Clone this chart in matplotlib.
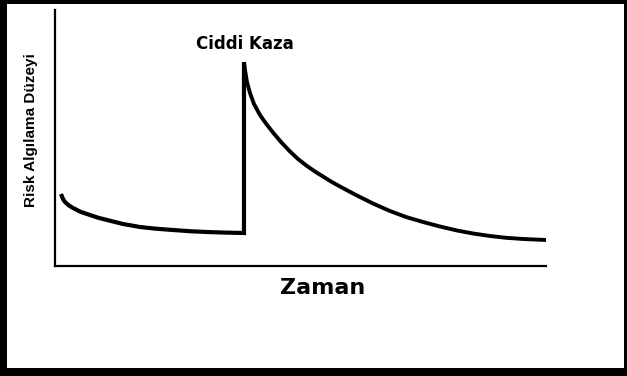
import matplotlib
matplotlib.use("Agg")
import matplotlib.pyplot as plt
from matplotlib.patches import Rectangle

# values (time 0..100, risk level 0..100)
zaman_once = [1.22, 1.63, 2.04, 2.85, 3.67, 5.30, 7.13, 8.76, 10.59, 13.85,
              17.31, 20.57, 24.03, 27.49, 30.96, 34.62, 38.49]
risk_once = [28.13, 26.17, 25.0, 23.63, 22.66, 21.09, 19.92, 18.87, 17.97, 16.41,
             15.23, 14.57, 14.06, 13.59, 13.28, 13.05, 12.89]

kaza_zamani = 38.49
kaza_riski = 79.69

zaman_sonra = [38.49, 38.70, 39.10, 39.71, 40.53, 41.75, 42.97, 44.40, 46.03,
               47.86, 49.49, 51.32, 52.95, 54.58, 56.21, 58.04, 61.30, 64.77,
               68.23, 71.49, 74.95, 78.41, 81.87, 85.13, 88.59, 91.85, 95.32, 100.0]
risk_sonra = [79.69, 76.56, 71.88, 67.58, 63.28, 58.98, 55.66, 52.15, 48.44,
              44.73, 41.80, 39.06, 36.91, 34.96, 33.01, 31.05, 27.73, 24.41,
              21.48, 19.14, 17.19, 15.43, 13.87, 12.70, 11.72, 11.02, 10.55, 10.16]

kaza_etiketi = "Ciddi Kaza"
x_etiketi = "Zaman"
y_etiketi = "Risk Algılama Düzeyi"

fig = plt.figure(figsize=(6.27, 3.76), dpi=100)
ax = fig.add_axes([55 / 627, 110 / 376, 491 / 627, 256 / 376])

# before the accident, then the jump up
ax.plot(zaman_once + [kaza_zamani], risk_once + [kaza_riski], color="black",
        lw=3.0, solid_joinstyle="miter", solid_capstyle="butt")
# after the accident
ax.plot(zaman_sonra, risk_sonra, color="black", lw=2.8,
        solid_joinstyle="round", solid_capstyle="butt")

ax.annotate(kaza_etiketi, xy=(kaza_zamani, kaza_riski), xytext=(0.5, 13),
            textcoords="offset points", ha="center", va="center",
            fontsize=12, fontweight="bold", family=["DejaVu Sans"])

ax.set_xlim(0, 100)
ax.set_ylim(0, 100)
ax.set_xticks([])
ax.set_yticks([])
for s in ["top", "right"]:
    ax.spines[s].set_visible(False)
for s in ["left", "bottom"]:
    ax.spines[s].set_linewidth(1.6)

ax.set_xlabel(x_etiketi, fontsize=16, fontweight="bold", family=["DejaVu Sans"])
ax.xaxis.set_label_coords(0.546, -0.086)
ax.xaxis.label.set_va("center")
ax.set_ylabel(y_etiketi, fontsize=11, fontweight="bold",
              family=["Liberation Sans", "DejaVu Sans"])
ax.yaxis.set_label_coords(-0.049, 0.531)
ax.yaxis.label.set_va("center")

# black frame round the picture (uneven, as in the scan)
W, H = 627, 376
for x0, y0, w, h in [(0, 0, 7, H), (0, 0, W, 8), (0, H - 4, W, 4), (W - 3, 0, 3, H)]:
    fig.add_artist(Rectangle((x0 / W, y0 / H), w / W, h / H, transform=fig.transFigure,
                             facecolor="black", edgecolor="none"))

fig.savefig("out.png", dpi=100)
